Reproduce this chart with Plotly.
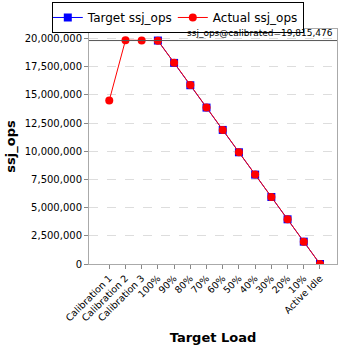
import plotly.graph_objects as go

categories = ["Calibration 1", "Calibration 2", "Calibration 3", "100%", "90%", "80%", "70%",
              "60%", "50%", "40%", "30%", "20%", "10%", "Active Idle"]
target_cats = categories[3:]
target_ops = [19815476, 17833928, 15852381, 13870833, 11889286, 9907738, 7926190,
              5944643, 3963095, 1981548, 0]
actual_ops = [14500000, 19850000, 19830000, 19800000, 17850000, 15870000, 13880000,
              11880000, 9900000, 7930000, 5940000, 3960000, 1980000, 0]
calibrated = 19815476
y_ticks = [0, 2500000, 5000000, 7500000, 10000000, 12500000, 15000000, 17500000, 20000000]

fig = go.Figure()
fig.add_trace(go.Scatter(x=target_cats, y=target_ops, name="Target ssj_ops", mode="lines+markers",
                         line=dict(color="#0000ff", width=1),
                         marker=dict(symbol="square", size=8, color="#0000ff")))
fig.add_trace(go.Scatter(x=categories, y=actual_ops, name="Actual ssj_ops", mode="lines+markers",
                         line=dict(color="#ff0000", width=1),
                         marker=dict(symbol="circle", size=8, color="#ff0000")))
fig.add_shape(type="line", xref="paper", x0=0, x1=1, yref="y", y0=calibrated, y1=calibrated,
              line=dict(color="#555555", width=1))
fig.add_annotation(xref="paper", yref="paper", x=1, y=1, xanchor="right", yanchor="top",
                   text="ssj_ops@calibrated=" + f"{calibrated:,}", showarrow=False,
                   font=dict(family="DejaVu Sans", size=9, color="#000000"),
                   borderpad=0, xshift=-3, yshift=2)

fig.update_layout(
    width=348, height=348,
    margin=dict(l=89, r=11, t=29, b=84, autoexpand=False),
    paper_bgcolor="white", plot_bgcolor="white",
    font=dict(family="DejaVu Sans", size=10, color="#000000"),
    showlegend=True,
    legend=dict(orientation="h", x=-0.15, xanchor="left", xref="paper",
                y=1.115, yanchor="top", yref="paper",
                bordercolor="#000000", borderwidth=1, indentation=-5,
                font=dict(size=12), itemwidth=30, tracegroupgap=0,
                bgcolor="white"),
    xaxis=dict(categoryorder="array", categoryarray=categories, range=[-1.25, 14.05],
               tickangle=-45, ticks="outside", ticklen=4, tickcolor="#888888",
               showgrid=False, showline=True, linecolor="#aaaaaa", mirror=True,
               tickfont=dict(size=9.5), automargin=False,
               title=dict(text="<b>Target Load</b>", font=dict(size=13), standoff=10)),
    yaxis=dict(range=[0, 20840000], tickvals=y_ticks,
               ticktext=[f"{v:,}" for v in y_ticks],
               ticks="outside", ticklen=4, tickcolor="#888888",
               showgrid=True, gridcolor="#dddddd", griddash="dash",
               showline=True, linecolor="#aaaaaa", mirror=True, zeroline=False,
               tickfont=dict(size=10), automargin=False,
               title=dict(text="<b>ssj_ops</b>", font=dict(size=13), standoff=6)),
)
fig.write_html("out.html")
